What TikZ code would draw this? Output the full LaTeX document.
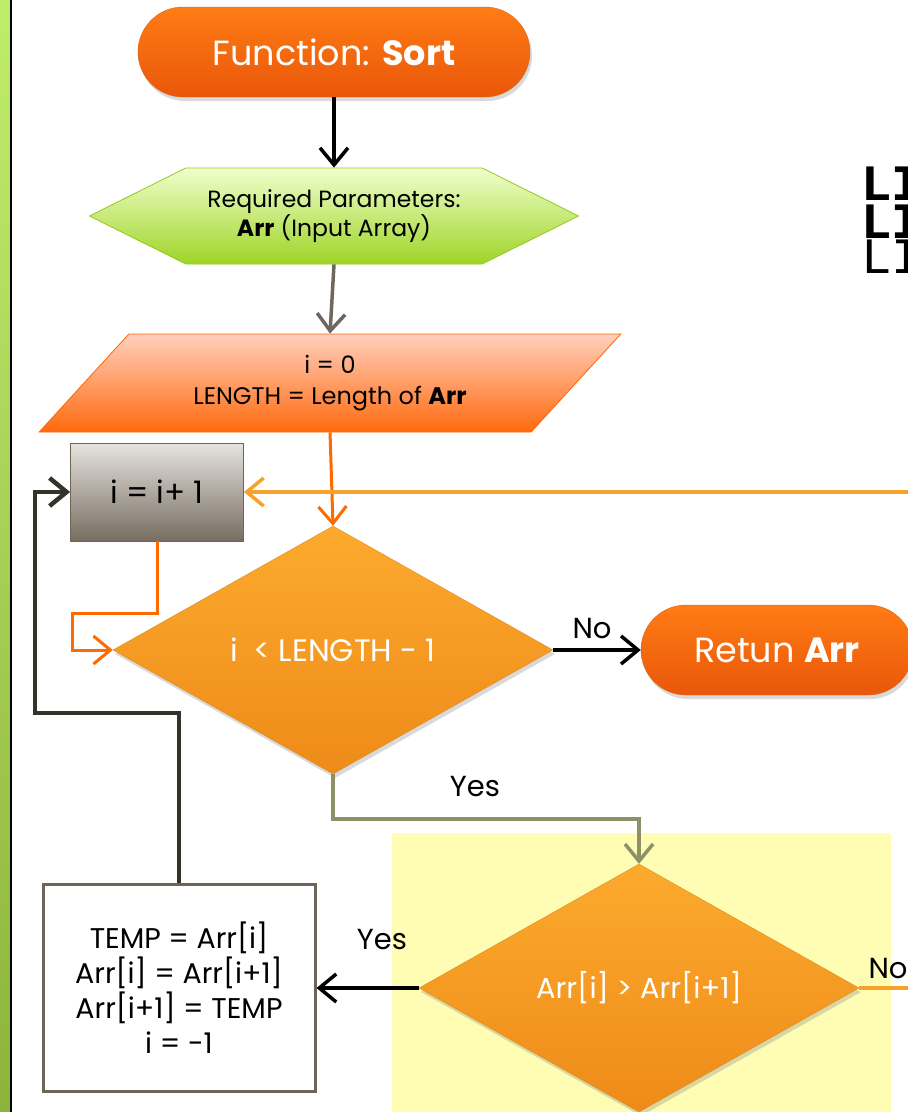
\documentclass[tikz,border=0pt]{standalone}
\usepackage{fontspec}
\setmainfont{Poppins}
\setmonofont{Liberation Mono}
\usepackage{tikz}
\usetikzlibrary{arrows.meta,shapes.geometric,shapes.symbols,shadows}
\definecolor{termUst}{HTML}{FF7C14}
\definecolor{termAlt}{HTML}{E9570A}
\definecolor{termKenar}{HTML}{D8661C}
\definecolor{yesilUst}{HTML}{EFFFCC}
\definecolor{yesilAlt}{HTML}{9ED427}
\definecolor{yesilKenar}{HTML}{97C91B}
\definecolor{pembeUst}{HTML}{FFCFBD}
\definecolor{pembeAlt}{HTML}{FF6A0E}
\definecolor{pembeKenar}{HTML}{FF6600}
\definecolor{griUst}{HTML}{E6E3DF}
\definecolor{griAlt}{HTML}{776D61}
\definecolor{griKenar}{HTML}{6E6558}
\definecolor{karoUst}{HTML}{FCAA2E}
\definecolor{karoAlt}{HTML}{EE8B19}
\definecolor{karoKenar}{HTML}{D98E1C}
\definecolor{sariZemin}{HTML}{FFFDB3}
\definecolor{koyuCizgi}{HTML}{33332A}
\definecolor{griCizgi}{HTML}{6E675E}
\definecolor{turuncu}{HTML}{FF6A00}
\definecolor{acikTuruncu}{HTML}{F9A22B}
\definecolor{zeytin}{HTML}{8E9068}
\definecolor{barUst}{HTML}{C0EC6C}
\definecolor{barAlt}{HTML}{8CB43B}

\begin{document}
\begin{tikzpicture}[x=1pt,y=-1pt,
  terminalBox/.style={rectangle,rounded corners=45pt,minimum height=90pt,
    top color=termUst,bottom color=termAlt,draw=termKenar,text=white,
    drop shadow={opacity=0.3,shadow xshift=2pt,shadow yshift=-4pt}},
  paramBox/.style={signal,signal to=west and east,signal pointer angle=53,
    minimum width=489pt,minimum height=96pt,inner sep=0pt,
    top color=yesilUst,bottom color=yesilAlt,draw=yesilKenar,thick,align=center},
  ioBox/.style={trapezium,trapezium left angle=45,trapezium right angle=135,
    trapezium stretches=true,minimum width=585pt,minimum height=98pt,
    top color=pembeUst,bottom color=pembeAlt,draw=pembeKenar,thick,align=center},
  incBox/.style={rectangle,minimum width=173pt,minimum height=98pt,
    top color=griUst,bottom color=griAlt,draw=griKenar,thick},
  decisionBox/.style={diamond,aspect=1.77,minimum width=440pt,minimum height=248pt,
    inner sep=0pt,top color=karoUst,bottom color=karoAlt,draw=karoKenar,text=white,
    drop shadow={opacity=0.3,shadow xshift=2pt,shadow yshift=-4pt}},
  swapBox/.style={rectangle,minimum width=272pt,minimum height=207pt,
    draw=griKenar,line width=3pt,fill=white,align=center,
    font=\fontsize{28.5}{35}\selectfont},
  codeLine/.style={anchor=base west,inner sep=0pt,text height=27pt,text depth=0pt},
  tip/.style={-{Straight Barb[length=17pt,width=28pt]}},
  lbl/.style={font=\fontsize{29}{32}\selectfont}]
\useasboundingbox (0,0) rectangle (908,1112);
\clip (0,0) rectangle (908,1112);
% sol serit
\shade[top color=barUst,bottom color=barAlt] (0,0) rectangle (10,1112);
\draw[line width=2pt] (11,0) -- (11,1112);
% sari zemin
\fill[sariZemin] (392,833) rectangle (891,1112);
% kutular
\node[terminalBox,minimum width=392pt,font=\fontsize{35}{40}\selectfont]
  (sort) at (334,52) {Function: \textbf{Sort}};
\node[paramBox,font=\fontsize{23.5}{26}\selectfont] (params) at (334,216)
  {Required Parameters:\\\textbf{Arr} (Input Array)};
\node[ioBox,font=\fontsize{24}{31}\selectfont] (init) at (330,383)
  {i = 0\\LENGTH = Length of \textbf{Arr}};
\node[incBox,font=\fontsize{31}{34}\selectfont] (inc) at (157,492) {i = i+ 1};
\node[decisionBox,font=\fontsize{31}{34}\selectfont] (cond1) at (333,650)
  {i\enspace< LENGTH - 1};
\node[terminalBox,minimum width=272pt,font=\fontsize{35}{40}\selectfont]
  (ret) at (777,650) {Retun \textbf{Arr}};
\node[decisionBox,font=\fontsize{29}{32}\selectfont] (cond2) at (639,988)
  {Arr[i] > Arr[i+1]};
\node[swapBox] (swap) at (179,988)
  {TEMP = Arr[i]\\Arr[i] = Arr[i+1]\\Arr[i+1] = TEMP\\i = -1};
% kod satirlari
\node[codeLine,font=\ttfamily\bfseries\fontsize{51}{51}\selectfont]
  (code1) at (861,200) {LI};
\node[codeLine,font=\ttfamily\bfseries\fontsize{51}{51}\selectfont]
  (code2) at (861,238) {LI};
\node[codeLine,font=\ttfamily\fontsize{51}{51}\selectfont]
  (code3) at (861,273) {LI};
% baglantilar
\coordinate (rightIn) at (912,492);
\coordinate (rightOut) at (912,988);
\draw[tip,line width=3.5pt] (sort.south) -- (params.north);
\draw[tip,griCizgi,line width=3.5pt] (params.south) -- (init.north);
\draw[tip,turuncu,line width=3pt] (init.south) -- (cond1.north);
\draw[tip,acikTuruncu,line width=3.5pt] (rightIn) -- (inc.east);
\draw[tip,turuncu,line width=3pt] (inc.south) -- (157,613) -- (72,613) |- (cond1.west);
\draw[tip,line width=3.5pt] (cond1.east) -- (ret.west);
\draw[tip,zeytin,line width=3.5pt] (cond1.south) -- (333,819) -| (cond2.north);
\draw[tip,line width=3.5pt] (cond2.west) -- (swap.east);
\draw[acikTuruncu,line width=3.5pt] (cond2.east) -- (rightOut);
\draw[tip,koyuCizgi,line width=4.5pt] (swap.north) |- (35,713) |- (inc.west);
% etiketler
\node[lbl] (noLbl1) at (592,628) {No};
\node[lbl] (yesLbl1) at (475,787) {Yes};
\node[lbl] (yesLbl2) at (382,940) {Yes};
\node[lbl] (noLbl2) at (888,968) {No};
\end{tikzpicture}
\end{document}
